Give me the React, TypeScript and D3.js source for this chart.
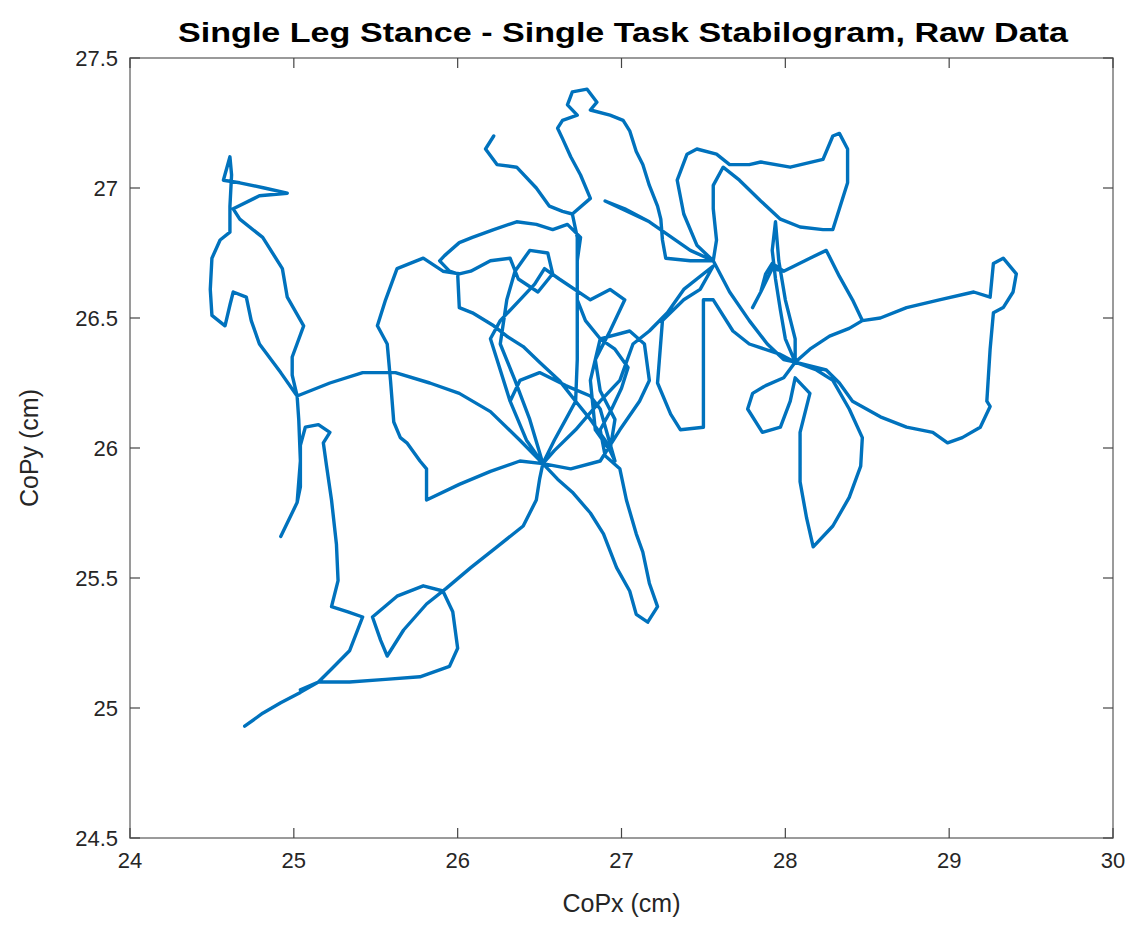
import React from 'react';
import * as d3 from 'd3';

// CoP trace, in cm, [CoPx, CoPy], in drawing order
const startLeft: [number, number][] = [
  [24.70, 24.93], [24.81, 24.98], [24.92, 25.02], [25.04, 25.06], [25.15, 25.10], [25.23, 25.15],
  [25.34, 25.22], [25.42, 25.35], [25.33, 25.37], [25.23, 25.39], [25.27, 25.49], [25.26, 25.63],
  [25.23, 25.80], [25.20, 25.93], [25.18, 26.02], [25.22, 26.06], [25.15, 26.09], [25.07, 26.08],
  [25.04, 26.01], [25.04, 25.85], [25.02, 25.79], [24.92, 25.66],
];

const upperLeft: [number, number][] = [
  [25.02, 25.79], [25.04, 25.95], [25.03, 26.11], [25.02, 26.20], [24.99, 26.28], [24.99, 26.35],
  [25.06, 26.47], [24.96, 26.58], [24.93, 26.69], [24.81, 26.81], [24.67, 26.88], [24.63, 26.92],
  [24.79, 26.97], [24.96, 26.98], [24.82, 27.00], [24.67, 27.02], [24.57, 27.03], [24.61, 27.12],
  [24.62, 27.05], [24.61, 26.93], [24.61, 26.83], [24.55, 26.80], [24.50, 26.73], [24.49, 26.61],
  [24.50, 26.51], [24.58, 26.47], [24.61, 26.55], [24.63, 26.60], [24.71, 26.58], [24.74, 26.49],
  [24.79, 26.40], [24.92, 26.29], [25.02, 26.20],
];

const crossToCentre: [number, number][] = [
  [25.22, 26.25], [25.42, 26.29], [25.62, 26.29], [25.83, 26.25], [26.01, 26.21], [26.20, 26.14],
  [26.38, 26.03], [26.52, 25.94],
];

const downToBlob: [number, number][] = [
  [26.61, 25.88], [26.70, 25.83], [26.81, 25.75], [26.89, 25.67], [26.97, 25.54], [27.05, 25.45],
  [27.09, 25.36], [27.16, 25.33], [27.22, 25.39], [27.17, 25.48], [27.13, 25.60], [27.09, 25.67],
  [27.03, 25.80], [26.99, 25.92], [26.90, 25.97], [26.87, 26.07], [26.94, 26.15], [27.00, 26.23],
  [27.04, 26.31], [26.96, 26.38], [26.87, 26.42],
];

const centreTangle: [number, number][] = [
  [26.78, 26.49], [26.73, 26.57], [26.73, 26.72], [26.75, 26.81], [26.67, 26.86], [26.58, 26.84],
  [26.48, 26.86], [26.36, 26.87], [26.22, 26.84], [26.09, 26.81], [26.01, 26.79], [25.92, 26.74],
  [25.89, 26.72], [25.95, 26.68], [26.00, 26.67], [26.01, 26.54], [26.09, 26.52], [26.22, 26.47],
  [26.30, 26.43], [26.40, 26.39], [26.50, 26.33], [26.62, 26.26], [26.72, 26.18], [26.81, 26.11],
  [26.90, 26.03], [26.96, 25.95], [26.87, 26.15], [26.81, 26.20], [26.66, 26.24], [26.50, 26.29],
  [26.38, 26.26], [26.32, 26.18], [26.42, 26.03], [26.52, 25.94],
  [26.44, 26.11], [26.35, 26.26], [26.26, 26.40], [26.30, 26.57], [26.35, 26.68], [26.44, 26.76],
  [26.55, 26.75], [26.58, 26.67], [26.49, 26.60], [26.37, 26.65], [26.32, 26.73], [26.20, 26.72],
  [26.08, 26.68], [26.01, 26.67],
];

const leftArc: [number, number][] = [
  [25.91, 26.68], [25.79, 26.73], [25.63, 26.69], [25.56, 26.57], [25.51, 26.47], [25.57, 26.40],
  [25.59, 26.26], [25.61, 26.10], [25.65, 26.04], [25.69, 26.02], [25.77, 25.95], [25.81, 25.92],
  [25.81, 25.80], [26.01, 25.86], [26.20, 25.91], [26.38, 25.95], [26.52, 25.94],
];

const topPart: [number, number][] = [
  [26.59, 26.03], [26.66, 26.11], [26.72, 26.18], [26.73, 26.34], [26.73, 26.57], [26.73, 26.81],
  [26.70, 26.90], [26.64, 26.91], [26.56, 26.93], [26.48, 27.00], [26.36, 27.08], [26.24, 27.09],
  [26.17, 27.15], [26.22, 27.20], [26.17, 27.15], [26.24, 27.09], [26.36, 27.08], [26.48, 27.00],
  [26.56, 26.93], [26.64, 26.91], [26.70, 26.90], [26.81, 26.96], [26.75, 27.05], [26.69, 27.12],
  [26.64, 27.19], [26.61, 27.23], [26.64, 27.26], [26.73, 27.28], [26.67, 27.32], [26.70, 27.37],
  [26.79, 27.38], [26.85, 27.33], [26.81, 27.30], [26.93, 27.28], [27.01, 27.26], [27.05, 27.22],
  [27.09, 27.14], [27.13, 27.09], [27.17, 27.01], [27.22, 26.93], [27.24, 26.88], [27.25, 26.80],
  [27.27, 26.73], [27.42, 26.72], [27.56, 26.72],
  [27.42, 26.76], [27.17, 26.87], [27.02, 26.92], [26.90, 26.95], [27.17, 26.87], [27.42, 26.76],
  [27.56, 26.72],
];

const rightTopLoop: [number, number][] = [
  [27.46, 26.78], [27.38, 26.90], [27.34, 27.03], [27.40, 27.13], [27.46, 27.15], [27.58, 27.13],
  [27.66, 27.09], [27.78, 27.09], [27.85, 27.10], [28.03, 27.08], [28.23, 27.11], [28.29, 27.20],
  [28.33, 27.21], [28.38, 27.15], [28.38, 27.02], [28.33, 26.92], [28.29, 26.84], [28.23, 26.84],
  [28.09, 26.85], [27.97, 26.88], [27.85, 26.95], [27.72, 27.03], [27.62, 27.08], [27.56, 27.01],
  [27.56, 26.92], [27.58, 26.80], [27.56, 26.72],
];

const rightHub: [number, number][] = [
  [27.66, 26.60], [27.78, 26.49], [27.89, 26.40], [27.99, 26.34], [28.06, 26.33],
  [27.99, 26.27], [27.88, 26.24], [27.80, 26.21], [27.77, 26.15], [27.86, 26.06], [27.97, 26.08],
  [28.03, 26.18], [28.06, 26.27],
  [28.15, 26.21], [28.09, 26.06], [28.09, 25.87], [28.13, 25.73], [28.17, 25.62], [28.29, 25.70],
  [28.39, 25.81], [28.46, 25.93], [28.47, 26.04], [28.39, 26.15], [28.29, 26.26], [28.19, 26.30],
  [28.06, 26.33],
  [28.00, 26.42], [27.97, 26.53], [27.94, 26.65], [27.92, 26.76], [27.94, 26.87], [27.96, 26.72],
  [28.00, 26.57], [28.06, 26.42], [28.06, 26.33],
];

const rightSide: [number, number][] = [
  [28.15, 26.38], [28.27, 26.43], [28.39, 26.46], [28.47, 26.49], [28.41, 26.57], [28.33, 26.66],
  [28.25, 26.76], [28.15, 26.73], [27.99, 26.68], [27.92, 26.71], [27.88, 26.67], [27.85, 26.60],
  [27.80, 26.54], [27.85, 26.60], [27.92, 26.69], [27.99, 26.68], [28.15, 26.73], [28.25, 26.76],
  [28.33, 26.66], [28.41, 26.57], [28.47, 26.49],
  [28.58, 26.50], [28.74, 26.54], [28.94, 26.57], [29.15, 26.60], [29.25, 26.58], [29.27, 26.71],
  [29.33, 26.73], [29.41, 26.67], [29.39, 26.60], [29.33, 26.54], [29.27, 26.52], [29.25, 26.38],
  [29.23, 26.18], [29.25, 26.16], [29.19, 26.08], [29.08, 26.04], [28.99, 26.02], [28.90, 26.06],
  [28.74, 26.08], [28.58, 26.12], [28.41, 26.18], [28.33, 26.25], [28.25, 26.30], [28.06, 26.33],
];

const backToCentre: [number, number][] = [
  [27.97, 26.36], [27.78, 26.40], [27.68, 26.45], [27.56, 26.57], [27.50, 26.57], [27.50, 26.38],
  [27.50, 26.18], [27.50, 26.08], [27.36, 26.07], [27.30, 26.13], [27.22, 26.25], [27.25, 26.49],
  [27.38, 26.57], [27.48, 26.61], [27.56, 26.70], [27.38, 26.61], [27.28, 26.52], [27.17, 26.45],
  [27.07, 26.40], [26.99, 26.26], [26.87, 26.18], [26.72, 26.07], [26.59, 25.99], [26.52, 25.94],
];

const centreExtra: [number, number][] = [
  [26.42, 26.03], [26.32, 26.18], [26.24, 26.34], [26.20, 26.42], [26.26, 26.49], [26.38, 26.57],
  [26.47, 26.63], [26.53, 26.69], [26.62, 26.65], [26.81, 26.57], [26.93, 26.61], [27.02, 26.57],
  [26.93, 26.45], [26.84, 26.34], [26.87, 26.22], [26.96, 26.11], [26.93, 25.99], [26.84, 26.07],
  [26.81, 26.26], [26.87, 26.42], [27.05, 26.45], [27.14, 26.40], [27.17, 26.26], [27.11, 26.18],
  [26.99, 26.07], [26.87, 25.95], [26.69, 25.92], [26.52, 25.94],
];

const endLower: [number, number][] = [
  [26.50, 25.88], [26.48, 25.80], [26.40, 25.70], [26.24, 25.62], [26.08, 25.54], [25.93, 25.46],
  [25.81, 25.40], [25.67, 25.30], [25.57, 25.20], [25.53, 25.26], [25.48, 25.35], [25.63, 25.43],
  [25.79, 25.47], [25.91, 25.45], [25.97, 25.37], [26.00, 25.23], [25.95, 25.16], [25.77, 25.12],
  [25.56, 25.11], [25.34, 25.10], [25.15, 25.10], [25.04, 25.07],
];

const trace = [
  ...startLeft, ...upperLeft, ...crossToCentre, ...downToBlob, ...centreTangle, ...leftArc,
  ...topPart, ...rightTopLoop, ...rightHub, ...rightSide, ...backToCentre, ...centreExtra, ...endLower,
];

const xTicks = [24, 25, 26, 27, 28, 29, 30];
const yTicks = [24.5, 25, 25.5, 26, 26.5, 27, 27.5];

const W = 1137;
const H = 930;
const left = 130, right = 1113, top = 58, bottom = 838;
const tickLen = 10;
const font = 'Liberation Sans, Arial, Helvetica, sans-serif';

export default function App() {
  const x = d3.scaleLinear().domain([24, 30]).range([left, right]);
  const y = d3.scaleLinear().domain([24.5, 27.5]).range([bottom, top]);
  const line = d3.line<[number, number]>().x((d) => x(d[0])).y((d) => y(d[1]));

  return (
    <svg width={W} height={H} style={{ position: 'absolute', left: 0, top: 0, background: '#fff' }}>
      <rect x={0} y={0} width={W} height={H} fill="#fff" />
      <text x={623} y={42} textAnchor="middle" fontFamily={font} fontWeight="bold" fontSize={27}
        textLength={890} lengthAdjust="spacingAndGlyphs" fill="#000">
        Single Leg Stance - Single Task Stabilogram, Raw Data
      </text>

      <path d={line(trace) || ''} fill="none" stroke="#0072BD" strokeWidth={3.4}
        strokeLinejoin="round" strokeLinecap="round" />

      <rect x={left} y={top} width={right - left} height={bottom - top} fill="none" stroke="#7a7a7a" strokeWidth={1.5} />

      {xTicks.map((t) => (
        <g key={'x' + t}>
          <line x1={x(t)} x2={x(t)} y1={bottom} y2={bottom - tickLen} stroke="#444" strokeWidth={1.2} />
          <line x1={x(t)} x2={x(t)} y1={top} y2={top + tickLen} stroke="#444" strokeWidth={1.2} />
          <text x={x(t)} y={bottom + 30} textAnchor="middle" fontFamily={font} fontSize={22} fill="#262626">{t}</text>
        </g>
      ))}
      {yTicks.map((t) => (
        <g key={'y' + t}>
          <line x1={left} x2={left + tickLen} y1={y(t)} y2={y(t)} stroke="#444" strokeWidth={1.2} />
          <line x1={right} x2={right - tickLen} y1={y(t)} y2={y(t)} stroke="#444" strokeWidth={1.2} />
          <text x={left - 12} y={y(t) + 8} textAnchor="end" fontFamily={font} fontSize={22} fill="#262626">{t}</text>
        </g>
      ))}

      <text x={(left + right) / 2} y={912} textAnchor="middle" fontFamily={font} fontSize={25} fill="#262626">CoPx (cm)</text>
      <text transform={`translate(38, ${(top + bottom) / 2}) rotate(-90)`} textAnchor="middle" fontFamily={font}
        fontSize={25} fill="#262626">CoPy (cm)</text>
    </svg>
  );
}
